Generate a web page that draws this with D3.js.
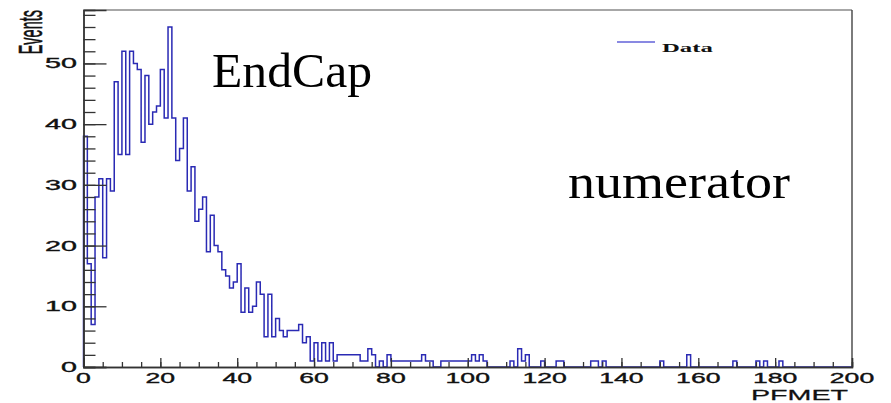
<!DOCTYPE html>
<html>
<head>
<meta charset="utf-8">
<script src="https://cdn.jsdelivr.net/npm/d3@7/dist/d3.min.js"></script>
<style>
  html, body { margin: 0; padding: 0; background: #fff; }
  svg { display: block; }
</style>
</head>
<body>
<svg id="chart" width="891" height="403"></svg>
<script>
// PFMET histogram, 200 bins of width 1 between 0 and 200
const binLow = 0;
const binHigh = 200;
const counts = [
  38, 17, 7, 28, 31, 18, 31, 29, 47, 35,
  52, 35, 52, 50, 49, 37, 48, 40, 42, 43,
  49, 41, 56, 41, 34, 36, 41, 29, 33, 24,
  26, 28, 19, 25, 20, 19, 16, 15, 13, 14,
  17, 9, 13, 9, 10, 14, 12, 5, 12, 5,
  8, 6, 5, 6, 6, 6, 7, 4, 5, 1,
  4, 1, 4, 1, 4, 1, 2, 2, 2, 2,
  2, 2, 1, 1, 3, 2, 0, 1, 0, 2,
  1, 1, 1, 1, 1, 1, 1, 1, 2, 1,
  1, 0, 0, 1, 1, 1, 1, 1, 1, 1,
  1, 2, 1, 2, 1, 0, 0, 0, 0, 0,
  0, 1, 0, 3, 1, 2, 0, 0, 0, 1,
  0, 0, 0, 1, 1, 0, 0, 0, 0, 0,
  0, 0, 1, 1, 0, 1, 0, 0, 0, 0,
  0, 0, 0, 0, 0, 0, 0, 0, 0, 0,
  1, 0, 0, 0, 0, 0, 0, 2, 0, 0,
  0, 0, 0, 0, 0, 0, 0, 0, 0, 1,
  0, 0, 0, 0, 0, 1, 0, 1, 0, 0,
  0, 1, 0, 0, 0, 0, 0, 0, 0, 0,
  0, 0, 0, 0, 0, 0, 0, 0, 0, 0
];
const xMajorTicks = [0, 20, 40, 60, 80, 100, 120, 140, 160, 180, 200];
const yMajorTicks = [0, 10, 20, 30, 40, 50];
const xTitle = "PFMET";
const yTitle = "Events";
const legendLabel = "Data";
const notes = ["EndCap", "numerator"];

const svg = d3.select("#chart");
const frame = { left: 83.5, right: 852, top: 10, bottom: 367 };
const binWidth = (binHigh - binLow) / counts.length;
const yMax = 1.05 * d3.max(counts);

const x = d3.scaleLinear().domain([binLow, binHigh]).range([frame.left, frame.right]);
const y = d3.scaleLinear().domain([0, yMax]).range([frame.bottom, frame.top]);

const axisColor = "#333";
const histColor = "#2a2ab4";
const sansFont = "'Liberation Sans', Arial, Helvetica, sans-serif";
const serifFont = "'Liberation Serif', 'Times New Roman', serif";

// frame
svg.append("line").attr("x1", frame.left).attr("x2", frame.right)
  .attr("y1", frame.top).attr("y2", frame.top)
  .attr("stroke", "#8a8a8a").attr("stroke-width", 1.6);
svg.append("line").attr("x1", frame.right).attr("x2", frame.right)
  .attr("y1", frame.top).attr("y2", frame.bottom)
  .attr("stroke", "#444").attr("stroke-width", 1.4);

// histogram outline as a stepped path
const pts = [[binLow, 0]];
counts.forEach((c, i) => {
  const lo = binLow + i * binWidth;
  pts.push([lo, c], [lo + binWidth, c]);
});
pts.push([binHigh, 0]);
svg.append("path")
  .datum(pts)
  .attr("d", d3.line().x(d => x(d[0])).y(d => y(d[1])))
  .attr("fill", "none")
  .attr("stroke", histColor)
  .attr("stroke-width", 1.5);

// axes: ticks point into the frame
const xMinor = d3.range(binLow, binHigh + 0.001, 5);
const yMinor = d3.range(0, yMax, 2);

const gx = svg.append("g").attr("transform", `translate(0,${frame.bottom})`);
gx.call(d3.axisBottom(x).tickValues(xMinor).tickSize(-5).tickFormat(""));
const gx2 = svg.append("g").attr("transform", `translate(0,${frame.bottom})`);
gx2.call(d3.axisBottom(x).tickValues(xMajorTicks).tickSize(-9).tickFormat(""));
[gx, gx2].forEach(g => {
  g.select(".domain").attr("stroke", axisColor).attr("stroke-width", 1.4);
  g.selectAll(".tick line").attr("stroke", axisColor).attr("stroke-width", 1.3);
});

const gy = svg.append("g").attr("transform", `translate(${frame.left},0)`);
gy.call(d3.axisLeft(y).tickValues(yMinor).tickSize(-12).tickFormat(""));
const gy2 = svg.append("g").attr("transform", `translate(${frame.left},0)`);
gy2.call(d3.axisLeft(y).tickValues(yMajorTicks).tickSize(-23).tickFormat(""));
[gy, gy2].forEach(g => {
  g.select(".domain").attr("stroke", axisColor).attr("stroke-width", 1.4);
  g.selectAll(".tick line").attr("stroke", axisColor).attr("stroke-width", 1.3);
});

// tick labels (wide, horizontally stretched sans text)
svg.append("g").selectAll("text").data(yMajorTicks).join("text")
  .attr("transform", d => `translate(77,${y(d) + 5}) scale(2.05,1)`)
  .attr("text-anchor", "end")
  .attr("font-family", sansFont).attr("font-size", 14)
  .attr("fill", "#111").attr("stroke", "#111").attr("stroke-width", 0.35)
  .text(d => d);

svg.append("g").selectAll("text").data(xMajorTicks).join("text")
  .attr("transform", d => `translate(${x(d)},383) scale(1.9,1)`)
  .attr("text-anchor", "middle")
  .attr("font-family", sansFont).attr("font-size", 14)
  .attr("fill", "#111").attr("stroke", "#111").attr("stroke-width", 0.35)
  .text(d => d);

// axis titles
svg.append("text")
  .attr("transform", "translate(848,400) scale(1.85,1)")
  .attr("text-anchor", "end")
  .attr("font-family", sansFont).attr("font-size", 15.5)
  .attr("fill", "#111").attr("stroke", "#111").attr("stroke-width", 0.25)
  .text(xTitle);

svg.append("text")
  .attr("transform", "translate(42,10) scale(2.3,1) rotate(-90)")
  .attr("text-anchor", "end")
  .attr("font-family", sansFont).attr("font-size", 14.5)
  .attr("fill", "#111").attr("stroke", "#111").attr("stroke-width", 0.25)
  .text(yTitle);

// legend
svg.append("line")
  .attr("x1", 617).attr("x2", 655).attr("y1", 42).attr("y2", 42)
  .attr("stroke", "#6262d8").attr("stroke-width", 1.5);
svg.append("text")
  .attr("transform", "translate(662,52) scale(1.9,1)")
  .attr("font-family", serifFont).attr("font-size", 13).attr("font-weight", "bold")
  .attr("fill", "#111")
  .text(legendLabel);

// annotations
svg.append("text")
  .attr("x", 212).attr("y", 87)
  .attr("font-family", serifFont).attr("font-size", 48)
  .attr("textLength", 160).attr("lengthAdjust", "spacingAndGlyphs")
  .attr("fill", "#000")
  .text(notes[0]);
svg.append("text")
  .attr("x", 568).attr("y", 198)
  .attr("font-family", serifFont).attr("font-size", 49)
  .attr("textLength", 222).attr("lengthAdjust", "spacingAndGlyphs")
  .attr("fill", "#000")
  .text(notes[1]);
</script>
</body>
</html>
